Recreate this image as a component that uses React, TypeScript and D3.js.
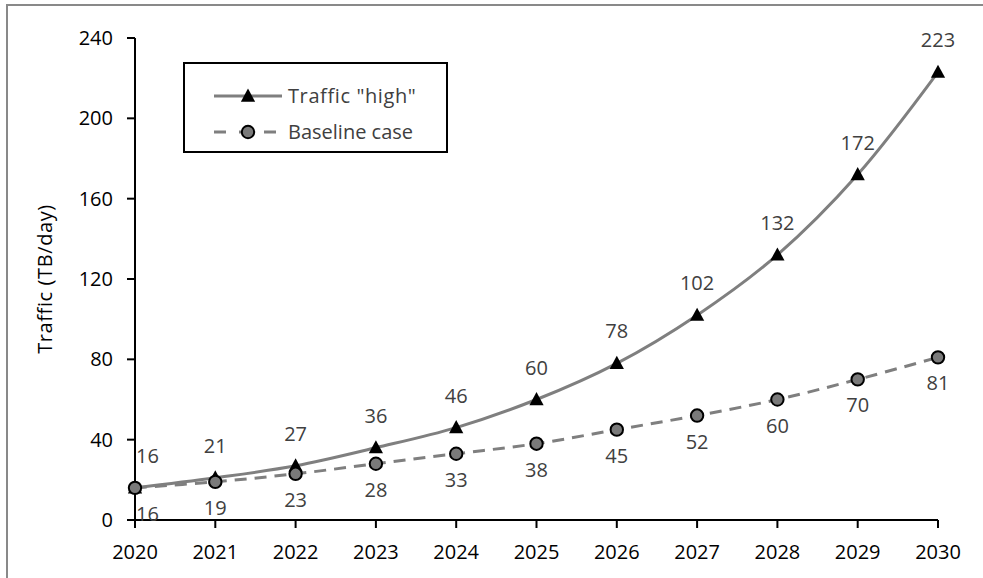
import React from "react";
import * as d3 from "d3";

const years = [2020, 2021, 2022, 2023, 2024, 2025, 2026, 2027, 2028, 2029, 2030];
const highValues = [16, 21, 27, 36, 46, 60, 78, 102, 132, 172, 223];
const baseValues = [16, 19, 23, 28, 33, 38, 45, 52, 60, 70, 81];
const yTicks = [0, 40, 80, 120, 160, 200, 240];
const seriesNames = ['Traffic "high"', "Baseline case"];

const W = 983;
const H = 578;
const FONT = "'Open Sans', 'Liberation Sans', sans-serif";
const FS = 20;

export default function App() {
  const x = d3.scaleLinear().domain([2020, 2030]).range([135, 938]);
  const y = d3.scaleLinear().domain([0, 240]).range([520, 38]);
  const line = d3
    .line<number>()
    .x((_, i) => x(years[i]))
    .y((d) => y(d))
    .curve(d3.curveCatmullRom.alpha(0.5));

  const tri = (cx: number, cy: number, s = 7.5) =>
    `M${cx},${cy - s} L${cx + s * 0.95},${cy + s * 0.75} L${cx - s * 0.95},${cy + s * 0.75} Z`;

  return (
    <svg
      width={W}
      height={H}
      style={{ position: "absolute", left: 0, top: 0, background: "#fff" }}
      fontFamily={FONT}
    >
      <rect x={7} y={5} width={W + 20} height={H + 20} fill="#fff" stroke="#898989" strokeWidth={2} />

      {/* axes */}
      <line x1={x(2020)} x2={x(2020)} y1={y(240)} y2={y(0)} stroke="#000" strokeWidth={2} />
      <line x1={x(2020) - 8} x2={x(2030)} y1={y(0)} y2={y(0)} stroke="#000" strokeWidth={2} />
      {yTicks.map((t) => (
        <g key={t}>
          <line x1={x(2020) - 8} x2={x(2020)} y1={y(t)} y2={y(t)} stroke="#000" strokeWidth={2} />
          <text x={x(2020) - 22} y={y(t)} dy="0.35em" textAnchor="end" fontSize={FS} fill="#000">
            {t}
          </text>
        </g>
      ))}
      {years.map((yr) => (
        <g key={yr}>
          <line x1={x(yr)} x2={x(yr)} y1={y(0)} y2={y(0) + 8} stroke="#000" strokeWidth={2} />
          <text x={x(yr)} y={y(0) + 39} textAnchor="middle" fontSize={FS} fill="#000">
            {yr}
          </text>
        </g>
      ))}
      <text
        transform={`translate(52,${(y(0) + y(240)) / 2}) rotate(-90)`}
        textAnchor="middle"
        fontSize={FS}
        letterSpacing={0.6}
        fill="#000"
      >
        Traffic (TB/day)
      </text>

      {/* lines */}
      <path d={line(baseValues) || ""} fill="none" stroke="#7f7f7f" strokeWidth={3} strokeDasharray="12,8" />
      <path d={line(highValues) || ""} fill="none" stroke="#7f7f7f" strokeWidth={3} />

      {/* markers */}
      {highValues.map((v, i) => (
        <path key={"t" + i} d={tri(x(years[i]), y(v))} fill="#000" />
      ))}
      {baseValues.map((v, i) => (
        <circle key={"c" + i} cx={x(years[i])} cy={y(v)} r={6.2} fill="#7a7a7a" stroke="#000" strokeWidth={2} />
      ))}

      {/* labels */}
      {highValues.map((v, i) => (
        <text
          key={"lh" + i}
          x={i === 0 ? x(years[i]) + 1 : x(years[i])}
          y={y(v) - 25}
          textAnchor={i === 0 ? "start" : "middle"}
          fontSize={FS}
          fill="#404040"
        >
          {v}
        </text>
      ))}
      {baseValues.map((v, i) => (
        <text
          key={"lb" + i}
          x={i === 0 ? x(years[i]) + 1 : x(years[i])}
          y={y(v) + 33}
          textAnchor={i === 0 ? "start" : "middle"}
          fontSize={FS}
          fill="#404040"
        >
          {v}
        </text>
      ))}

      {/* legend */}
      <rect x={184} y={63} width={263} height={89} fill="#fff" stroke="#000" strokeWidth={2} />
      <line x1={214} x2={282} y1={96} y2={96} stroke="#7f7f7f" strokeWidth={3} />
      <path d={tri(248, 96)} fill="#000" />
      <text x={288} y={96} dy="0.35em" fontSize={FS} letterSpacing={0.6} fill="#404040">
        {seriesNames[0]}
      </text>
      <line x1={214} x2={282} y1={132} y2={132} stroke="#7f7f7f" strokeWidth={3} strokeDasharray="12,13" />
      <circle cx={248} cy={132} r={6.2} fill="#7a7a7a" stroke="#000" strokeWidth={2} />
      <text x={288} y={132} dy="0.35em" fontSize={FS} fill="#404040">
        {seriesNames[1]}
      </text>
    </svg>
  );
}
